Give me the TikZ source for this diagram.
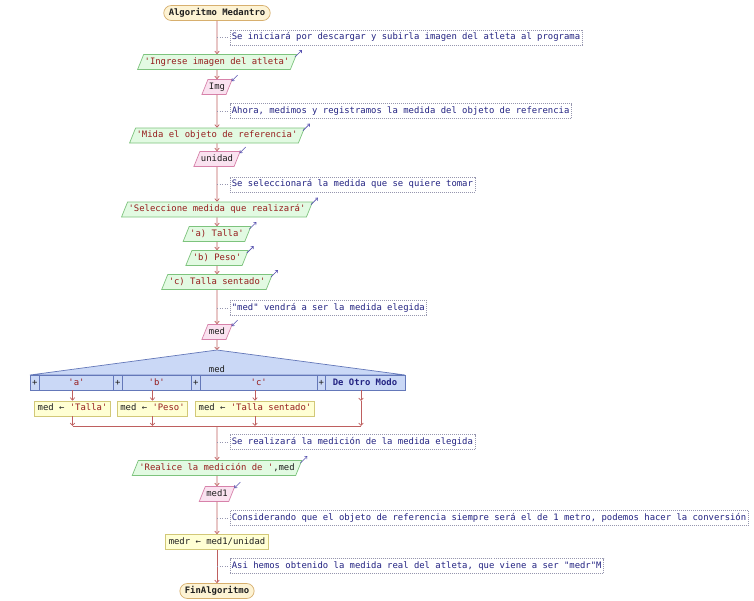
\documentclass[tikz,border=0pt]{standalone}
\usepackage{fontspec}
\setmonofont{DejaVu Sans Mono}
\usetikzlibrary{shapes.geometric,arrows.meta}

\definecolor{flow}{RGB}{190,95,95}
\definecolor{strc}{RGB}{150,30,30}
\definecolor{navy}{RGB}{35,35,130}
\definecolor{ink}{RGB}{30,30,30}
\definecolor{termfill}{RGB}{253,243,212}
\definecolor{termdraw}{RGB}{215,175,110}
\definecolor{outfill}{RGB}{226,250,226}
\definecolor{outdraw}{RGB}{125,195,125}
\definecolor{infill}{RGB}{250,226,240}
\definecolor{indraw}{RGB}{215,130,170}
\definecolor{asgfill}{RGB}{255,255,212}
\definecolor{asgdraw}{RGB}{210,200,120}
\definecolor{swfill}{RGB}{202,216,246}
\definecolor{swdraw}{RGB}{100,120,185}
\definecolor{notedraw}{RGB}{150,150,175}
\definecolor{ioarr}{RGB}{85,80,175}

\newcommand\lit[1]{\textcolor{strc}{#1}}
\newcommand\kw[1]{\textcolor{navy}{\bfseries #1}}

\tikzset{
  base/.style={text height=6.8pt, text depth=2.2pt, inner ysep=3pt, line width=0.7pt},
  term/.style={base, rectangle, draw=termdraw, fill=termfill, rounded corners=7.5pt,
    inner xsep=5pt, font=\ttfamily\fontsize{8.9pt}{10pt}\selectfont\bfseries},
  outbox/.style={base, trapezium, trapezium left angle=68, trapezium right angle=112,
    draw=outdraw, fill=outfill, inner xsep=1pt},
  inbox/.style={base, trapezium, trapezium left angle=68, trapezium right angle=112,
    draw=indraw, fill=infill, inner xsep=1pt},
  asg/.style={base, rectangle, draw=asgdraw, fill=asgfill, inner xsep=3pt},
  note/.style={base, rectangle, draw=notedraw, dash pattern=on 0.8pt off 1.2pt,
    inner xsep=2pt, text=navy, anchor=west},
  cell/.style={rectangle, draw=swdraw, fill=swfill, line width=0.7pt, minimum height=15pt,
    inner sep=0pt, outer sep=0pt, anchor=north west},
  link/.style={draw=flow, line width=0.7pt, -{Straight Barb[length=2.5pt,width=4.5pt]}},
  joinline/.style={draw=flow, line width=0.7pt},
  notelink/.style={draw=notedraw, line width=0.7pt, dash pattern=on 1pt off 1.5pt},
  iomark/.style={draw=ioarr, line width=0.6pt, -{Straight Barb[length=2pt,width=3.5pt]}}
}

\begin{document}
\begin{tikzpicture}[x=1pt, y=-1pt, font=\ttfamily\fontsize{8.9pt}{10pt}\selectfont, text=ink]
\fill[white] (0,0) rectangle (754,600);
\useasboundingbox (0,0) rectangle (754,600);

% main sequence
\node[term] (start) at (217,13) {Algoritmo Medantro};
\node[note] (n1) at (229.5,37.5) {Se iniciará por descargar y subirla imagen del atleta al programa};
\node[outbox] (o1) at (217,62) {\lit{'Ingrese imagen del atleta'}};
\node[inbox] (i1) at (217,87) {Img};
\node[note] (n2) at (229.5,111) {Ahora, medimos y registramos la medida del objeto de referencia};
\node[outbox] (o2) at (217,135.5) {\lit{'Mida el objeto de referencia'}};
\node[inbox] (i2) at (217,159) {unidad};
\node[note] (n3) at (229.5,184.5) {Se seleccionará la medida que se quiere tomar};
\node[outbox] (o3) at (217,209.5) {\lit{'Seleccione medida que realizará'}};
\node[outbox] (o4) at (217,234) {\lit{'a) Talla'}};
\node[outbox] (o5) at (217,258) {\lit{'b) Peso'}};
\node[outbox] (o6) at (217,282) {\lit{'c) Talla sentado'}};
\node[note] (n4) at (229.5,308) {"med" vendrá a ser la medida elegida};
\node[inbox] (i3) at (217,332) {med};

% selection block
\coordinate (sw) at (217,350);
\coordinate (swl) at (30,375);
\coordinate (swr) at (405,375);
\filldraw[fill=swfill, draw=swdraw, line width=0.7pt] (sw) -- (swr) -- (swl) -- cycle;
\node (swlbl) at (217,369) {med};
\node[cell, minimum width=9.5pt] (p1) at (30,375) {+};
\node[cell, minimum width=74pt] (ca) at (39.5,375) {\lit{'a'}};
\node[cell, minimum width=8.5pt] (p2) at (113.5,375) {+};
\node[cell, minimum width=69.5pt] (cb) at (122,375) {\lit{'b'}};
\node[cell, minimum width=8.5pt] (p3) at (191.5,375) {+};
\node[cell, minimum width=117.5pt] (cc) at (200,375) {\lit{'c'}};
\node[cell, minimum width=7.5pt] (p4) at (317.5,375) {+};
\node[cell, minimum width=80pt] (cd) at (325,375) {\kw{De Otro Modo}};

\node[asg] (a1) at (72.5,408.5) {med ← \lit{'Talla'}};
\node[asg] (a2) at (152.5,408.5) {med ← \lit{'Peso'}};
\node[asg] (a3) at (255,408.5) {med ← \lit{'Talla sentado'}};
\coordinate (dd) at (361,401);
\coordinate (join) at (217,426);

\node[note] (n5) at (229.5,442) {Se realizará la medición de la medida elegida};
\node[outbox] (o7) at (217,468) {\lit{'Realice la medición de '},med};
\node[inbox] (i4) at (217,494) {med1};
\node[note] (n6) at (229.5,518) {Considerando que el objeto de referencia siempre será el de 1 metro, podemos hacer la conversión};
\node[asg] (a4) at (217,542) {medr ← med1/unidad};
\node[note] (n7) at (229.5,566) {Asi hemos obtenido la medida real del atleta, que viene a ser "medr"M};
\node[term] (fin) at (217,591) {FinAlgoritmo};

% flow connectors
\foreach \a/\b in {start/o1, o1/i1, i1/o2, o2/i2, i2/o3, o3/o4, o4/o5, o5/o6, o6/i3, o7/i4, i4/a4, a4/fin}
  \draw[link] (\a.south) -- (\b.north);
\draw[link] (i3.south) -- (sw);
\draw[link] (a1.north |- ca.south) -- (a1.north);
\draw[link] (a2.north |- cb.south) -- (a2.north);
\draw[link] (a3.north |- cc.south) -- (a3.north);
\draw[link] (dd |- cd.south) -- (dd);
\draw[link] (a1.south) -- (a1.south |- join);
\draw[link] (a2.south) -- (a2.south |- join);
\draw[link] (a3.south) -- (a3.south |- join);
\draw[link] (dd) -- (dd |- join);
\draw[joinline] (a1.south |- join) -- (dd |- join);
\draw[link] (join) -- (o7.north);

% comment leaders
\foreach \n in {n1, n2, n3, n4, n5, n6, n7}
  \draw[notelink] (start |- \n.west) -- (\n.west);

% input / output marks
\foreach \n in {o1, o2, o3, o4, o5, o6, o7}
  \draw[iomark] ([shift={(-2pt,-3pt)}]\n.top right corner) -- ([shift={(5pt,4pt)}]\n.top right corner);
\foreach \n in {i1, i2, i3, i4}
  \draw[iomark] ([shift={(5pt,4pt)}]\n.top right corner) -- ([shift={(-1pt,-2pt)}]\n.top right corner);
\end{tikzpicture}
\end{document}
